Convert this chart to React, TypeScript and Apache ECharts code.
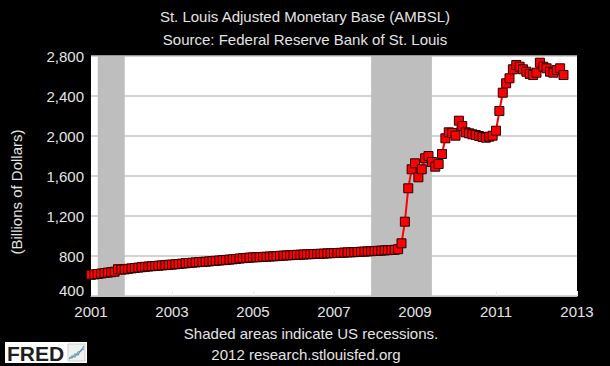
import { useEffect, useRef } from 'react';
import * as echarts from 'echarts';

// Monthly values (billions of dollars)
const years = [2001, 2002, 2003, 2004, 2005, 2006, 2007, 2008, 2009, 2010, 2011, 2012];
const v2001 = [612, 616, 620, 625, 630, 634, 638, 643, 668, 664, 666, 672];
const v2002 = [676, 680, 684, 688, 692, 695, 698, 700, 703, 706, 709, 712];
const v2003 = [714, 717, 720, 724, 727, 730, 733, 736, 739, 741, 743, 746];
const v2004 = [750, 752, 755, 758, 761, 764, 767, 770, 775, 778, 781, 784];
const v2005 = [786, 788, 789, 791, 793, 795, 797, 799, 802, 804, 806, 808];
const v2006 = [810, 812, 813, 815, 817, 818, 820, 821, 822, 824, 826, 828];
const v2007 = [829, 830, 832, 834, 836, 837, 838, 840, 843, 844, 846, 848];
const v2008 = [850, 852, 854, 856, 858, 860, 862, 868, 927, 1143, 1477, 1667];
const v2009 = [1727, 1587, 1667, 1777, 1800, 1740, 1693, 1720, 1820, 1977, 2037, 2030];
const v2010 = [2003, 2153, 2100, 2037, 2027, 2017, 2010, 2000, 1990, 1983, 1993, 2003];
const v2011 = [2053, 2250, 2433, 2527, 2577, 2667, 2710, 2693, 2667, 2643, 2620, 2610];
const v2012 = [2633, 2733, 2693, 2677, 2643, 2633, 2660, 2677, 2610];
const valuesByYear = [v2001, v2002, v2003, v2004, v2005, v2006, v2007, v2008, v2009, v2010, v2011, v2012];

// Recessions: [start year, start month, end year, end month]
const recessions = [
  [2001, 3, 2001, 11],
  [2007, 12, 2009, 6],
];

const baseYear = 2001;
const xMin = 0;
const xMax = 12;
const xInterval = 2;
const yMin = 400;
const yMax = 2800;
const yInterval = 400;

const titleLines = ['St. Louis Adjusted Monetary Base (AMBSL)', 'Source: Federal Reserve Bank of St. Louis'];
const footerLines = ['Shaded areas indicate US recessions.', '2012 research.stlouisfed.org'];
const yName = '(Billions of Dollars)';

const FONT = '"Liberation Sans", Arial, sans-serif';
const TXT = '#e4e4e4';

export default function App() {
  const ref = useRef<HTMLDivElement>(null);
  useEffect(() => {
    if (!ref.current) return;
    const chart = echarts.init(ref.current, null, { renderer: 'svg' });
    const data: number[][] = [];
    years.forEach((y, i) => {
      valuesByYear[i].forEach((v, m) => data.push([y - baseYear + m / 12, v]));
    });
    const toX = (y: number, m: number) => y - baseYear + (m - 1) / 12;
    const areas = recessions.map((r) => [{ xAxis: toX(r[0], r[1]) }, { xAxis: toX(r[2], r[3]) }]);

    chart.setOption({
      animation: false,
      backgroundColor: '#000',
      grid: { left: 91, right: 33, top: 56, bottom: 70, show: true, backgroundColor: '#fff', borderWidth: 0 },
      xAxis: {
        type: 'value',
        min: xMin,
        max: xMax,
        interval: xInterval,
        axisLine: { show: true, lineStyle: { color: '#c0c0c0', width: 1 } },
        axisTick: { show: true, inside: true, length: 5, lineStyle: { color: '#eeeeee' } },
        splitLine: { show: false },
        axisLabel: {
          color: TXT,
          fontFamily: FONT,
          fontSize: 15,
          margin: 8,
          formatter: (v: number) => String(v + baseYear),
        },
      },
      yAxis: {
        type: 'value',
        min: yMin,
        max: yMax,
        interval: yInterval,
        axisLine: { show: false },
        axisTick: { show: false },
        splitLine: { show: true, lineStyle: { color: '#c4c4c4', width: 1.5 } },
        axisLabel: {
          color: TXT,
          fontFamily: FONT,
          fontSize: 15,
          margin: 7,
          formatter: (v: number) => (v === yMin ? '{low|' + v + '}' : v.toLocaleString('en-US')),
          rich: {
            low: { color: TXT, fontFamily: FONT, fontSize: 15, padding: [0, 0, 12, 0] },
          },
        },
      },
      series: [
        {
          type: 'line',
          data,
          clip: false,
          symbol: 'rect',
          symbolSize: 9,
          lineStyle: { color: '#ff0000', width: 2 },
          itemStyle: { color: '#ff0000', borderColor: '#2a0000', borderWidth: 1 },
          markArea: {
            silent: true,
            itemStyle: { color: '#bebebe' },
            data: areas,
          },
          z: 3,
        },
      ],
      graphic: [
        {
          type: 'text',
          x: 305,
          y: 16,
          style: { text: titleLines[0], fill: TXT, font: '15px ' + FONT, textAlign: 'center', textVerticalAlign: 'middle' },
        },
        {
          type: 'text',
          x: 305,
          y: 39,
          style: { text: titleLines[1], fill: TXT, font: '15px ' + FONT, textAlign: 'center', textVerticalAlign: 'middle' },
        },
        {
          type: 'text',
          x: 311,
          y: 333,
          style: { text: footerLines[0], fill: TXT, font: '15px ' + FONT, textAlign: 'center', textVerticalAlign: 'middle' },
        },
        {
          type: 'text',
          x: 306,
          y: 354,
          style: { text: footerLines[1], fill: TXT, font: '15px ' + FONT, textAlign: 'center', textVerticalAlign: 'middle' },
        },
        {
          type: 'text',
          x: 16,
          y: 192,
          rotation: Math.PI / 2,
          style: { text: yName, fill: TXT, font: '15px ' + FONT, textAlign: 'center', textVerticalAlign: 'middle' },
        },
        {
          type: 'group',
          children: [
            { type: 'rect', shape: { x: 5, y: 342, width: 82, height: 21 }, style: { fill: '#ffffff' } },
            {
              type: 'text',
              x: 7,
              y: 353,
              style: { text: 'FRED', fill: '#1e1e1e', font: 'bold 21px ' + FONT, textAlign: 'left', textVerticalAlign: 'middle' },
            },
            { type: 'rect', shape: { x: 68, y: 344, width: 17, height: 17 }, style: { fill: '#eef1f1', stroke: '#cfcfcf', lineWidth: 1 } },
            {
              type: 'polyline',
              shape: { points: [[69, 359], [72, 356], [75, 357], [78, 352], [81, 351], [84, 346]] },
              style: { stroke: '#6aaa7a', lineWidth: 1.2, fill: 'none' },
            },
            {
              type: 'polyline',
              shape: { points: [[69, 358], [72, 358], [75, 354], [78, 355], [81, 350], [84, 349]] },
              style: { stroke: '#6a8fcc', lineWidth: 1.2, fill: 'none' },
            },
          ],
        },
      ],
    });
    return () => chart.dispose();
  }, []);
  return <div ref={ref} style={{ position: 'fixed', left: 0, top: 0, width: 610, height: 366 }} />;
}
